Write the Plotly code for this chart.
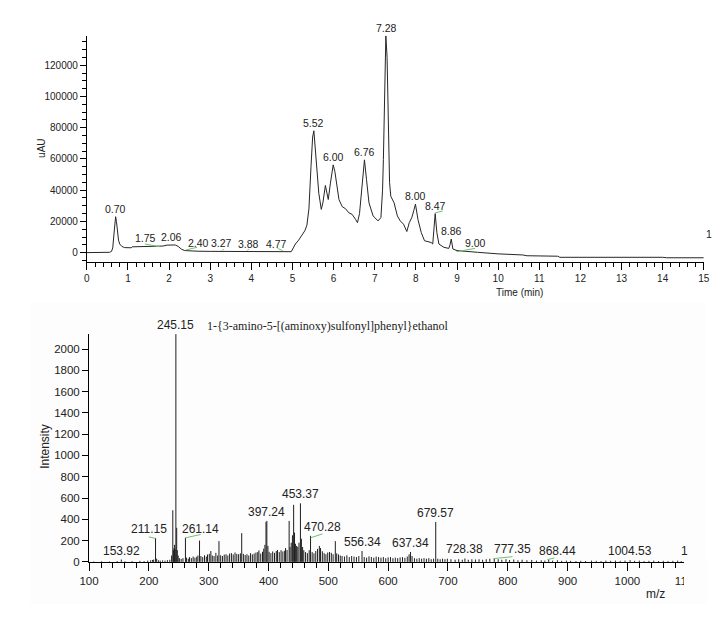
import numpy as np
import plotly.graph_objects as go

W, H = 720, 620

# ---------------- Chromatogram (top) ----------------
lc_time = [0.00, 0.30, 0.55, 0.60, 0.63, 0.66, 0.68, 0.70, 0.72, 0.74, 0.77, 0.80, 0.85, 0.92,
           1.00, 1.08, 1.10, 1.30, 1.40, 1.50, 1.70, 1.85, 1.95, 2.06, 2.15, 2.22, 2.30, 2.38,
           2.50, 2.70, 3.00, 3.50, 4.00, 4.50, 4.90, 4.97, 5.02, 5.07, 5.15, 5.23, 5.30, 5.35,
           5.40, 5.45, 5.49, 5.52, 5.56, 5.60, 5.64, 5.70, 5.74, 5.80, 5.84, 5.87, 5.92, 5.96,
           5.99, 6.03, 6.08, 6.13, 6.21, 6.29, 6.37, 6.45, 6.53, 6.58, 6.63, 6.68, 6.72, 6.75,
           6.80, 6.86, 6.96, 7.08, 7.15, 7.19, 7.21, 7.24, 7.27, 7.30, 7.33, 7.36, 7.39, 7.47,
           7.55, 7.62, 7.70, 7.78, 7.84, 7.90, 7.95, 7.99, 8.05, 8.13, 8.21, 8.30, 8.37, 8.41,
           8.44, 8.47, 8.51, 8.56, 8.68, 8.80, 8.83, 8.86, 8.90, 9.00, 9.50, 10.00, 10.60, 10.70,
           11.45, 11.50, 14.00, 14.10, 15.00]
lc_signal = [0, 0, 200, 800, 3000, 12000, 20000, 23000, 20000, 14000, 8000, 5500, 4000, 3200,
             3000, 3100, 3700, 3800, 3500, 3700, 3800, 4200, 4800, 5000, 4900, 4000, 2200, 1300,
             1000, 900, 800, 700, 600, 500, 400, 600, 3000, 5500, 8000, 10800, 14000, 17500,
             28000, 55000, 74000, 78000, 64000, 50000, 38000, 27700, 32000, 43000, 38000, 34000, 44000, 53000,
             56200, 52000, 42500, 34000, 29400, 28100, 25500, 24500, 21400, 19200, 25000, 38000, 52000, 59400,
             46700, 31900, 23500, 20300, 22400, 40000, 59500, 100000, 138800, 125000, 80000, 45000, 36100, 31900,
             23500, 20300, 18200, 13500, 19200, 22400, 27000, 31000, 21300, 12900, 7600, 6800, 6500, 5500,
             15000, 25000, 12900, 5500, 3400, 2700, 5000, 8700, 2300, 1300, 200, -800, -1500, -2000,
             -2300, -3000, -3000, -3300, -3300]
lc_peak_labels = ["0.70", "1.75", "2.06", "2.40", "3.27", "3.88", "4.77", "5.52", "6.00",
                  "6.76", "7.28", "8.00", "8.47", "8.86", "9.00"]
# integration baseline marks (green): t0, v0, t1, v1
lc_mark_t0 = [1.41, 2.41, 3.29, 3.90, 4.64, 8.47, 8.99]
lc_mark_v0 = [5500, 1700, 1300, 1300, 2700, 25500, 600]
lc_mark_t1 = [1.77, 2.68, 3.33, 3.94, 4.76, 8.65, 9.44]
lc_mark_v1 = [3800, 3400, 2400, 2400, 1300, 26600, 2700]

# ---------------- Mass spectrum (bottom) ----------------
ms_mz = [108, 121, 134, 147, 153.92, 160, 172, 185, 192, 198, 203, 206, 208, 211.15, 213, 216, 219,
         223, 227, 231, 235, 238, 240, 241, 242, 243, 244, 245.15, 246.5, 247.5, 249, 251, 254, 257,
         261.14, 263, 266, 268, 271, 274, 277, 280, 282, 284.7, 287, 290, 293, 296, 298, 301, 303.6,
         306, 309, 312, 315, 317.2, 320, 323, 326, 329, 332, 335, 338, 341, 344, 347, 350, 353, 355.2,
         358, 361, 364, 367, 370, 373, 376, 379, 382, 384, 387, 390, 392, 394, 395.8, 397.24, 399, 401,
         404, 407, 410, 413, 415, 418, 421, 424, 427, 428.5, 431, 434.5, 436, 438, 440, 442, 443.5,
         445, 447, 449, 451, 453.37, 455, 457, 459, 462, 465, 468, 470.28, 473, 476, 479, 482, 485,
         487, 490, 493, 496, 499, 502, 505, 508, 511.7, 514, 517, 520, 523, 527, 531, 535, 539, 543,
         547, 551, 556.34, 560, 564, 568, 572, 576, 580, 584, 588, 592, 596, 600, 604, 608, 612, 616,
         620, 624, 628, 632, 635, 637.34, 640, 644, 648, 652, 656, 660, 664, 668, 672, 676, 679.57,
         683, 687, 691, 695, 699, 705, 712, 718, 724, 728.38, 734, 740, 746, 752, 758, 764, 770,
         777.35, 784, 790, 797, 803, 810, 817, 824, 832, 840, 848, 856, 862, 868.44, 875, 883, 890,
         898, 905, 914, 922, 930, 940, 948, 956, 964, 972, 980, 988, 996, 1004.53, 1012, 1020, 1028,
         1036, 1044, 1052, 1060, 1068, 1076, 1084, 1090]
ms_int = [4, 6, 5, 8, 22, 6, 8, 10, 8, 12, 15, 18, 22, 225, 30, 15, 12,
          14, 12, 16, 20, 60, 485, 110, 130, 160, 120, 2140, 320, 110, 60, 35, 28, 35,
          226, 40, 30, 45, 35, 50, 40, 48, 60, 200, 55, 45, 62, 50, 70, 75, 102,
          60, 55, 85, 60, 195, 62, 55, 68, 72, 60, 78, 82, 70, 88, 75, 72, 80, 270,
          75, 65, 72, 60, 82, 70, 78, 88, 92, 108, 78, 95, 125, 160, 375, 385, 150, 95,
          82, 98, 85, 102, 112, 92, 110, 98, 105, 130, 112, 385, 140, 180, 250, 536, 275,
          170, 150, 142, 180, 550, 217, 140, 110, 92, 82, 110, 245, 92, 80, 102, 122, 150,
          130, 100, 82, 72, 88, 92, 85, 72, 195, 80, 70, 60, 55, 50, 62, 45, 55, 50,
          45, 55, 102, 45, 40, 52, 45, 40, 50, 45, 40, 45, 35, 42, 45, 35, 40, 35,
          42, 45, 38, 50, 70, 93, 55, 35, 30, 35, 30, 35, 30, 35, 25, 30, 375,
          30, 25, 30, 25, 30, 25, 20, 25, 20, 32, 20, 25, 22, 25, 20, 25, 30,
          35, 25, 20, 25, 18, 22, 15, 20, 15, 18, 12, 15, 12, 20, 12, 15, 10,
          12, 10, 8, 10, 8, 12, 10, 8, 12, 10, 12, 10, 12, 16, 10, 12, 8,
          10, 12, 8, 10, 8, 10, 12, 8]
ms_peak_labels = ["153.92", "211.15", "245.15", "261.14", "397.24", "453.37", "470.28",
                  "556.34", "637.34", "679.57", "728.38", "777.35", "868.44", "1004.53"]
# green leader marks: mz0, i0, mz1, i1
ms_mark_mz0 = [200.0, 261.1, 470.2, 776.5, 866.1]
ms_mark_i0 = [235, 226, 226, 31, 21]
ms_mark_mz1 = [211.15, 286.4, 490.1, 807.8, 877.9]
ms_mark_i1 = [220, 257, 263, 49, 37]
compound_name = "1-{3-amino-5-[(aminoxy)sulfonyl]phenyl}ethanol"

# ---------------- styles / placement ----------------
SANS = "Liberation Sans, Arial, sans-serif"
SERIF = "Liberation Serif, Times New Roman, serif"
TXT = "#222222"
GREEN = "#6cc36c"
PANEL = "#fdfdfd"
lc_label_xshift = {"1.75": -13, "2.40": 13, "4.77": -7, "9.00": 18, "3.88": 2}
ms_label_xshift = {"211.15": -6.5, "261.14": 15.5, "470.28": 12, "777.35": 18, "868.44": 9}


def seg_xy(x0s, y0s, x1s, y1s):
    xs, ys = [], []
    for a, b, c, d in zip(x0s, y0s, x1s, y1s):
        xs += [a, c, None]
        ys += [b, d, None]
    return xs, ys


fig = go.Figure()

# panel background for the spectrum
fig.add_shape(type="rect", xref="paper", yref="paper", x0=13 / W, x1=710 / W,
              y0=1 - 602 / H, y1=1 - 297 / H, fillcolor=PANEL, line_width=0, layer="below")

fig.add_trace(go.Scatter(x=lc_time, y=lc_signal, mode="lines",
                         line=dict(color="#262626", width=1), xaxis="x", yaxis="y",
                         hoverinfo="skip", showlegend=False))
gx, gy = seg_xy(lc_mark_t0, lc_mark_v0, lc_mark_t1, lc_mark_v1)
fig.add_trace(go.Scatter(x=gx, y=gy, mode="lines", line=dict(color=GREEN, width=1),
                         xaxis="x", yaxis="y", hoverinfo="skip", showlegend=False))

sx, sy = [], []
for m, v in zip(ms_mz, ms_int):
    sx += [m, m, None]
    sy += [0, v, None]
fig.add_trace(go.Scatter(x=sx, y=sy, mode="lines", line=dict(color="#1e1e1e", width=1),
                         xaxis="x2", yaxis="y2", hoverinfo="skip", showlegend=False))
mx, my = seg_xy(ms_mark_mz0, ms_mark_i0, ms_mark_mz1, ms_mark_i1)
fig.add_trace(go.Scatter(x=mx, y=my, mode="lines", line=dict(color=GREEN, width=1),
                         xaxis="x2", yaxis="y2", hoverinfo="skip", showlegend=False))

annotations = []
t_arr = np.array(lc_time)
s_arr = np.array(lc_signal)
for lab in lc_peak_labels:
    t = float(lab)
    win = (t_arr >= t - 0.04) & (t_arr <= t + 0.04)
    top = s_arr[win].max() if win.any() else np.interp(t, t_arr, s_arr)
    top = max(top, np.interp(t, t_arr, s_arr))
    annotations.append(dict(x=t, y=top, xref="x", yref="y", text=lab, showarrow=False,
                            yanchor="bottom", xanchor="center", yshift=0,
                            xshift=lc_label_xshift.get(lab, 0),
                            font=dict(family=SANS, size=10.5, color=TXT)))

mz_arr = np.array(ms_mz)
in_arr = np.array(ms_int)
for lab in ms_peak_labels:
    m = float(lab)
    i = int(np.argmin(np.abs(mz_arr - m)))
    annotations.append(dict(x=m, y=in_arr[i], xref="x2", yref="y2", text=lab, showarrow=False,
                            yanchor="bottom", xanchor="center", yshift=0,
                            xshift=ms_label_xshift.get(lab, 0),
                            font=dict(family=SANS, size=12, color=TXT)))

# cut-off labels at the right edge
annotations.append(dict(x=708 / W, y=1 - 228 / H, xref="paper", yref="paper", text="1",
                        showarrow=False, xanchor="left", yanchor="middle",
                        font=dict(family=SANS, size=10.5, color=TXT)))
annotations.append(dict(x=682 / W, y=1 - 548 / H, xref="paper", yref="paper", text="1",
                        showarrow=False, xanchor="left", yanchor="middle",
                        font=dict(family=SANS, size=12, color=TXT)))
# compound name
annotations.append(dict(x=193 / W, y=1 - 321 / H, xref="paper", yref="paper", text=compound_name,
                        showarrow=False, xanchor="left", yanchor="middle",
                        font=dict(family=SERIF, size=12, color=TXT)))
# axis titles
annotations.append(dict(x=517 / W, y=1 - 287 / H, xref="paper", yref="paper", text="Time (min)",
                        showarrow=False, xanchor="center", yanchor="middle",
                        font=dict(family=SANS, size=10, color=TXT)))
annotations.append(dict(x=24 / W, y=1 - 142 / H, xref="paper", yref="paper", text="uAU",
                        showarrow=False, xanchor="center", yanchor="middle", textangle=-90,
                        font=dict(family=SANS, size=10, color=TXT)))
annotations.append(dict(x=28 / W, y=1 - 443 / H, xref="paper", yref="paper", text="Intensity",
                        showarrow=False, xanchor="center", yanchor="middle", textangle=-90,
                        font=dict(family=SANS, size=12, color=TXT)))
annotations.append(dict(x=658 / W, y=1 - 592 / H, xref="paper", yref="paper", text="m/z",
                        showarrow=False, xanchor="center", yanchor="middle",
                        font=dict(family=SANS, size=12, color=TXT)))

# cover to mimic the cropped right end of the spectrum axis
fig.add_shape(type="rect", xref="paper", yref="paper", x0=687 / W, x1=712 / W,
              y0=1 - 596 / H, y1=1 - 556 / H, fillcolor=PANEL, line_width=0, layer="above")

axis_common = dict(showline=True, linecolor="black", linewidth=1, ticks="outside",
                   tickcolor="black", tickwidth=1, showgrid=False, zeroline=False)

fig.update_layout(
    width=W, height=H, margin=dict(l=0, r=0, t=0, b=0),
    paper_bgcolor="white", plot_bgcolor="rgba(0,0,0,0)", showlegend=False,
    font=dict(family=SANS, color=TXT),
    xaxis=dict(domain=[71 / W, 707.4 / W], range=[0, 15], anchor="y", tick0=0, dtick=1,
               ticklen=7, minor=dict(dtick=0.2, tick0=0, ticklen=4, ticks="outside", tickcolor="black"),
               tickfont=dict(family=SANS, size=10, color=TXT), **axis_common),
    yaxis=dict(domain=[1 - 256 / H, 1 - 27.8 / H], range=[-5700, 139000], anchor="x", tick0=0,
               dtick=20000, ticklen=6, tickformat="d",
               minor=dict(dtick=5000, tick0=0, ticklen=3.5, ticks="outside", tickcolor="black"),
               tickfont=dict(family=SANS, size=10, color=TXT), **axis_common),
    xaxis2=dict(domain=[73.3 / W, 690.3 / W], range=[100, 1100], anchor="y2", tick0=100, dtick=100,
                ticklen=8, tickformat="d",
                minor=dict(dtick=20, tick0=100, ticklen=5, ticks="outside", tickcolor="black"),
                tickfont=dict(family=SANS, size=11.5, color=TXT), **axis_common),
    yaxis2=dict(domain=[1 - 559.3 / H, 1 - 329.3 / H], range=[0, 2140], anchor="x2", tick0=0, dtick=200,
                ticklen=6, tickformat="d", tickfont=dict(family=SANS, size=11.5, color=TXT), **axis_common),
    annotations=annotations,
)

fig.write_html("out.html")
